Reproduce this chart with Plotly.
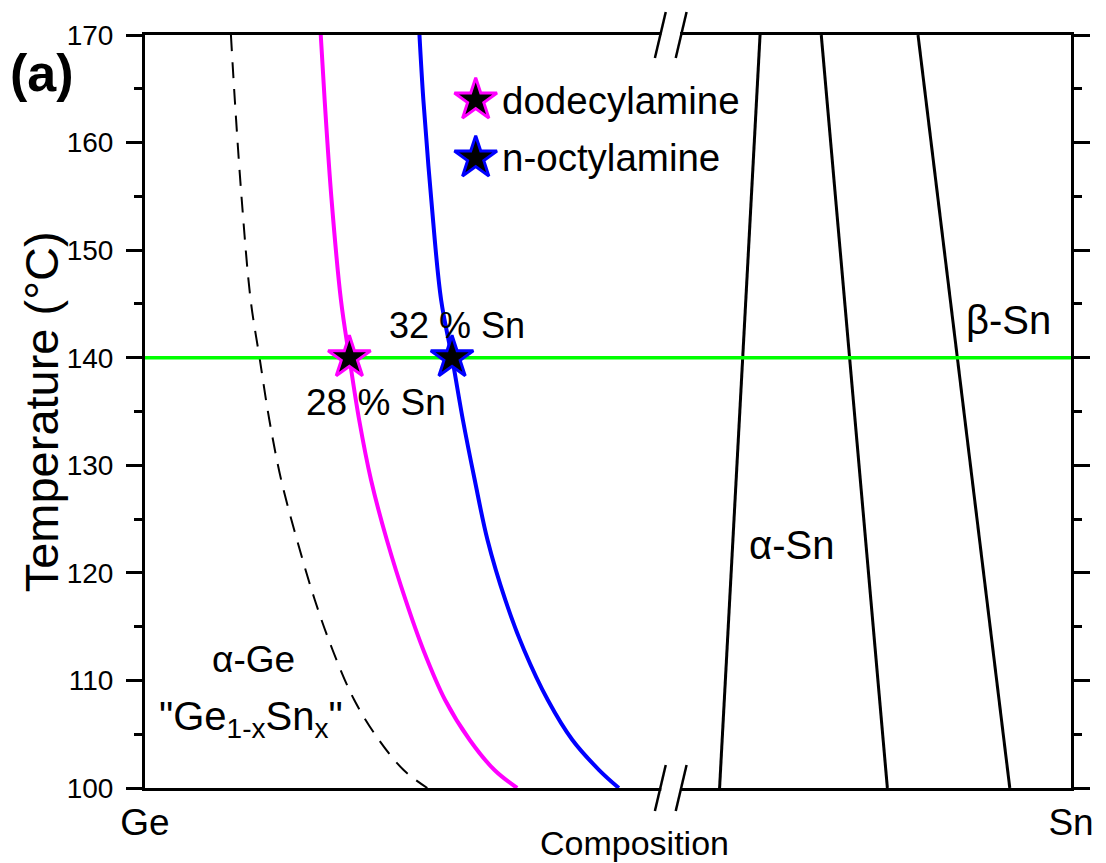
import plotly.graph_objects as go

# ---------------- data (composition axis in arbitrary 0-100 position units, Ge=0, Sn=100) ----------------
temp_pts = [170, 163.96, 154.66, 145.36, 140.0, 134.21, 128.63, 123.05, 117.48, 112.83, 108.18, 104.46, 101.67, 100]
comp_mag = [18.98, 19.40, 20.15, 21.16, 22.07, 23.13, 24.41, 26.12, 28.14, 30.06, 32.41, 35.07, 37.74, 40.19]
comp_blue = [29.64, 30.06, 30.92, 31.98, 33.16, 34.33, 35.61, 36.99, 38.91, 40.94, 43.50, 46.16, 49.04, 51.17]
comp_dash = [9.28, 9.70, 10.45, 11.41, 12.37, 13.43, 14.71, 16.42, 18.34, 20.26, 22.60, 25.27, 27.93, 30.49]

# alpha-Sn / beta-Sn boundary lines (top at 170 C, bottom at 100 C)
phase_line_temp = [170, 100]
phase_line1 = [66.42, 62.05]
phase_line2 = [73.03, 80.17]
phase_line3 = [83.48, 93.39]

green_temp = 140
green_comp = [0, 100]

star_comp = [22.07, 33.16]
star_temp = [140, 140]
star_names = ["dodecylamine", "n-octylamine"]
star_edge = ["#ff00ff", "#0000ff"]

x_tickvals = [0, 100]
x_ticktext = ["Ge", "Sn"]
y_range = [100, 170]
x_range = [0, 100]
break_x = [55.65, 57.9]

FONT = "Liberation Sans, Arial, sans-serif"

fig = go.Figure()

fig.add_trace(go.Scatter(x=comp_dash, y=temp_pts, mode="lines",
                         line=dict(color="black", width=2, dash="16px,11px", shape="spline"), showlegend=False))
fig.add_trace(go.Scatter(x=comp_mag, y=temp_pts, mode="lines",
                         line=dict(color="#ff00ff", width=4, shape="spline"), showlegend=False))
fig.add_trace(go.Scatter(x=comp_blue, y=temp_pts, mode="lines",
                         line=dict(color="#0000ff", width=4, shape="spline"), showlegend=False))
for pl in (phase_line1, phase_line2, phase_line3):
    fig.add_trace(go.Scatter(x=pl, y=phase_line_temp, mode="lines", line=dict(color="black", width=3), showlegend=False))
fig.add_trace(go.Scatter(x=green_comp, y=[green_temp, green_temp], mode="lines",
                         line=dict(color="#00ff00", width=3.5), showlegend=False))
for i in range(2):
    fig.add_trace(go.Scatter(x=[star_comp[i]], y=[star_temp[i]], mode="markers",
                             marker=dict(symbol="star", size=32, color="black", line=dict(color=star_edge[i], width=3)),
                             showlegend=False))

# pixel -> paper helpers
W, H = 938.0, 753.0
def px(xp):
    return (xp - 145) / W
def py(yp):
    return (788 - yp) / H

# legend drawn on an overlay axis (0-1)
leg_x = px(480)
leg_y = [py(100), py(158)]
for i in range(2):
    fig.add_trace(go.Scatter(x=[leg_x], y=[leg_y[i]], xaxis="x2", yaxis="y2", mode="markers",
                             marker=dict(symbol="star", size=32, color="black", line=dict(color=star_edge[i], width=3)),
                             showlegend=False))
    fig.add_annotation(x=px(505), y=leg_y[i], xref="paper", yref="paper", text=star_names[i], showarrow=False,
                       xanchor="left", yanchor="middle", font=dict(size=38.5, color="black", family=FONT))

# axis break
xb0 = break_x[0] / 100
xb1 = break_x[1] / 100
for yc in (35, 788):
    fig.add_shape(type="rect", xref="paper", yref="paper", x0=xb0 + 1 / W, x1=xb1 - 1 / W,
                  y0=py(yc + 5), y1=py(yc - 5), fillcolor="white", line=dict(width=0), layer="above")
    for xc in (xb0, xb1):
        fig.add_shape(type="line", xref="paper", yref="paper",
                      x0=xc - 5.5 / W, y0=py(yc + 23), x1=xc + 5.5 / W, y1=py(yc - 23),
                      line=dict(color="black", width=2.5), layer="above")

def ann(text, x, y, size=36):
    fig.add_annotation(x=x, y=y, xref="x", yref="y", text=text, showarrow=False,
                       xanchor="center", yanchor="middle",
                       font=dict(size=size, color="black", family=FONT))

ann("α-Ge", 11.73, 111.9, 37)
ann("\"Ge<sub>1-x</sub>Sn<sub>x</sub>\"", 11.5, 106.4, 40)
ann("α-Sn", 69.83, 122.6, 40)
ann("β-Sn", 93.2, 143.5, 40)
ann("32 % Sn", 33.7, 143.0, 36)
ann("28 % Sn", 24.9, 135.8, 37)

fig.add_annotation(x=px(41), y=py(73), xref="paper", yref="paper", text="<b>(a)</b>", showarrow=False,
                   xanchor="center", yanchor="middle", font=dict(size=52, color="black", family=FONT))
fig.add_annotation(x=px(40), y=py(412), xref="paper", yref="paper", text="Temperature (°C)", showarrow=False,
                   xanchor="center", yanchor="middle",
                   textangle=-90, font=dict(size=47, color="black", family=FONT))
fig.add_annotation(x=px(641), y=py(843), xref="paper", yref="paper", text="Composition", showarrow=False,
                   xanchor="center", yanchor="middle", font=dict(size=34, color="black", family=FONT))

fig.update_layout(
    width=1106, height=863,
    margin=dict(l=145, r=23, t=35, b=75),
    paper_bgcolor="white", plot_bgcolor="white",
    showlegend=False,
    xaxis=dict(range=x_range, showgrid=False, zeroline=False, showline=True, linecolor="black", linewidth=3,
               mirror=True, ticks="", tickvals=x_tickvals, ticktext=x_ticktext,
               tickfont=dict(size=37, color="black", family=FONT), ticklabelstandoff=0),
    yaxis=dict(range=y_range, showgrid=False, zeroline=False, showline=True, linecolor="black", linewidth=3,
               mirror="ticks", ticks="outside", ticklen=16, tickwidth=2.5, tickcolor="black", dtick=10,
               tickfont=dict(size=28, color="black", family=FONT), ticklabelstandoff=7,
               minor=dict(dtick=5, ticks="outside", ticklen=8, tickwidth=2.5, tickcolor="black")),
    xaxis2=dict(range=[0, 1], overlaying="x", visible=False),
    yaxis2=dict(range=[0, 1], overlaying="y", visible=False),
)

fig.write_html("out.html")
